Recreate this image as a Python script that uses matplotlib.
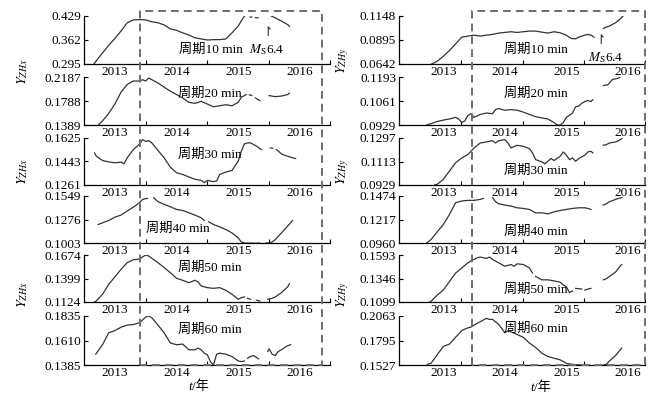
import numpy as np
import matplotlib.pyplot as plt
from matplotlib.lines import Line2D
from matplotlib.transforms import blended_transform_factory

plt.rcParams['font.family'] = ['Liberation Serif', 'Noto Sans CJK SC']
plt.rcParams['mathtext.fontset'] = 'stix'

nan = np.nan
W, H = 669, 398

periods = ['周期10 min', '周期20 min', '周期30 min', '周期40 min', '周期50 min', '周期60 min']
year_labels = ['2013', '2014', '2015', '2016']

# ---- Y_ZHx (left column) ----
zhx_t10 = [2012.66, 2012.7, 2012.8, 2012.9, 2013.0, 2013.1, 2013.2, 2013.3, 2013.4, 2013.5, 2013.6, 2013.7,
           2013.8, 2013.9, 2014.0, 2014.1, 2014.2, 2014.3, 2014.4, 2014.5, 2014.6, 2014.7, 2014.8, 2014.9,
           2015.0, 2015.1, 2015.13, 2015.16, 2015.19, 2015.22, 2015.25, 2015.28, 2015.32, 2015.4,
           2015.5, 2015.6, 2015.7, 2015.8, 2015.83]
zhx_v10 = [.295, .304, .326, .347, .366, .387, .410, .418, .419, .418, .413, .410,
           .404, .393, .389, .382, .376, .368, .365, .362, .363, .363, .365, .382,
           .401, .429, .432, nan, .426, .426, nan, .424, .424, nan,
           .432, .424, .415, .405, .400]

zhx_t20 = [2012.73, 2012.8, 2012.9, 2013.0, 2013.1, 2013.2, 2013.3, 2013.4, 2013.45, 2013.5, 2013.55, 2013.6,
           2013.7, 2013.8, 2013.9, 2014.0, 2014.1, 2014.2, 2014.3, 2014.4, 2014.5, 2014.6, 2014.7, 2014.8,
           2014.9, 2015.0, 2015.05, 2015.1, 2015.13, 2015.16, 2015.18, 2015.22, 2015.25, 2015.28, 2015.35,
           2015.42, 2015.5, 2015.6, 2015.7, 2015.8, 2015.83]
zhx_v20 = [.1389, .1456, .1580, .1737, .1934, .2063, .2120, .2120, .2142, .2120, .2170, .2142,
           .2086, .2018, .1951, .1895, .1839, .1766, .1749, .1782, .1737, .1692, .1709, .1726,
           .1709, .1766, .1850, .1878, .1895, nan, .1890, .1880, nan, .1839, .1794,
           nan, .1878, .1860, .1870, .1895, .1917]

zhx_t30 = [2012.67, 2012.7, 2012.8, 2012.9, 2013.0, 2013.1, 2013.15, 2013.2, 2013.3, 2013.4, 2013.45, 2013.5,
           2013.55, 2013.6, 2013.7, 2013.8, 2013.9, 2014.0, 2014.1, 2014.2, 2014.3, 2014.4, 2014.45, 2014.5,
           2014.6, 2014.65, 2014.7, 2014.8, 2014.9, 2015.0, 2015.05, 2015.1, 2015.15, 2015.2, 2015.3, 2015.35,
           2015.38, 2015.45, 2015.52, 2015.56, 2015.59, 2015.62, 2015.66, 2015.7, 2015.75, 2015.85, 2015.93]
zhx_v30 = [.1510, .1484, .1451, .1440, .1433, .1438, .1425, .1471, .1535, .1579, .1612, .1599,
           .1604, .1587, .1528, .1471, .1399, .1356, .1343, .1323, .1305, .1297, .1279, .1297,
           .1287, .1292, .1343, .1361, .1374, .1446, .1522, .1579, .1587, .1587, .1561, .1543,
           .1535, nan, .1548, .1545, nan, .1535, .1520, .1502, .1492, .1476, .1466]

zhx_t40 = [2012.73, 2012.8, 2012.9, 2013.0, 2013.1, 2013.2, 2013.3, 2013.4, 2013.45, 2013.5, 2013.53, 2013.58,
           2013.63, 2013.7, 2013.8, 2013.9, 2014.0, 2014.1, 2014.2, 2014.3, 2014.4, 2014.45, 2014.48, 2014.52,
           2014.6, 2014.7, 2014.8, 2014.9, 2015.0, 2015.05, 2015.1, 2015.2, 2015.3, 2015.35, 2015.4, 2015.45,
           2015.5, 2015.55, 2015.6, 2015.7, 2015.8, 2015.88]
zhx_v40 = [.1218, .1237, .1264, .1303, .1327, .1374, .1420, .1471, .1510, .1518, .1522, nan,
           .1530, .1483, .1452, .1424, .1393, .1381, .1354, .1327, .1296, .1264, nan, .1249,
           .1218, .1190, .1159, .1120, .1062, .1015, .1003, .1001, .1000, .1002, nan, .1003,
           .1005, .1015, .1042, .1120, .1198, .1264]

zhx_t50 = [2012.67, 2012.7, 2012.8, 2012.9, 2013.0, 2013.1, 2013.2, 2013.3, 2013.4, 2013.45, 2013.5, 2013.55,
           2013.6, 2013.7, 2013.8, 2013.9, 2014.0, 2014.1, 2014.2, 2014.3, 2014.35, 2014.4, 2014.5, 2014.6,
           2014.7, 2014.8, 2014.9, 2015.0, 2015.05, 2015.1, 2015.12, 2015.15, 2015.2, 2015.25, 2015.3, 2015.35,
           2015.42, 2015.48, 2015.55, 2015.6, 2015.7, 2015.8, 2015.83]
zhx_v50 = [.1124, .1136, .1214, .1331, .1417, .1506, .1584, .1619, .1627, .1651, .1674, .1662,
           .1635, .1584, .1526, .1467, .1401, .1378, .1350, .1378, .1358, .1311, .1292, .1284,
           .1292, .1261, .1214, .1155, .1175, .1183, nan, .1167, .1155, nan, .1144, .1136,
           nan, .1155, .1167, .1183, .1233, .1300, .1339]

zhx_t60 = [2012.69, 2012.8, 2012.9, 2013.0, 2013.1, 2013.2, 2013.3, 2013.4, 2013.5, 2013.55, 2013.6, 2013.7,
           2013.8, 2013.9, 2014.0, 2014.1, 2014.2, 2014.3, 2014.35, 2014.4, 2014.45, 2014.5, 2014.55, 2014.6,
           2014.65, 2014.7, 2014.8, 2014.9, 2015.0, 2015.05, 2015.1, 2015.12, 2015.15, 2015.2, 2015.25, 2015.3,
           2015.33, 2015.4, 2015.48, 2015.5, 2015.55, 2015.6, 2015.65, 2015.7, 2015.8, 2015.85]
zhx_v60 = [.1484, .1571, .1680, .1701, .1732, .1751, .1757, .1773, .1825, .1835, .1819, .1751,
           .1680, .1587, .1571, .1577, .1525, .1525, .1540, .1525, .1494, .1478, .1416, .1385,
           .1484, .1494, .1484, .1463, .1422, .1416, .1422, nan, .1447, .1463, .1472, .1453,
           .1441, nan, .1509, .1534, .1484, .1472, .1509, .1525, .1562, .1571]

# ---- Y_ZHy (right column) ----
zhy_t10 = [2012.81, 2012.9, 2013.0, 2013.1, 2013.2, 2013.3, 2013.4, 2013.5, 2013.6, 2013.7, 2013.8, 2013.9,
           2014.0, 2014.1, 2014.2, 2014.3, 2014.4, 2014.5, 2014.6, 2014.7, 2014.8, 2014.9, 2015.0, 2015.08,
           2015.15, 2015.2, 2015.3, 2015.35, 2015.4, 2015.45, 2015.52, 2015.6, 2015.65, 2015.7, 2015.75,
           2015.8, 2015.9, 2015.92]
zhy_v10 = [.0642, .0670, .0723, .0784, .0854, .0925, .0936, .0946, .0936, .0946, .0954, .0968,
           .0975, .0982, .0975, .0982, .0989, .0989, .0978, .0968, .0982, .0971, .0946, .0911,
           .0907, .0925, .0946, .0954, .0946, .0925, nan, .1017, .1031, .1042, .1060,
           .1077, .1131, .1148]

zhy_t20 = [2012.73, 2012.8, 2012.9, 2013.0, 2013.1, 2013.2, 2013.25, 2013.3, 2013.35, 2013.4, 2013.45, 2013.5,
           2013.6, 2013.7, 2013.8, 2013.85, 2013.9, 2014.0, 2014.1, 2014.2, 2014.3, 2014.4, 2014.5, 2014.6,
           2014.7, 2014.8, 2014.85, 2014.9, 2014.95, 2015.0, 2015.1, 2015.15, 2015.2, 2015.25, 2015.3, 2015.35,
           2015.4, 2015.43, 2015.5, 2015.6, 2015.63, 2015.67, 2015.7, 2015.75, 2015.8, 2015.85, 2015.9]
zhy_v20 = [.0929, .0937, .0948, .0956, .0962, .0971, .0962, .0942, .0952, .0981, .0991, .0971,
           .0987, .0995, .0991, .1014, .1020, .1010, .1014, .1010, .1000, .0987, .0975, .0968,
           .0962, .0942, .0929, .0929, .0942, .0971, .0995, .1029, .1033, .1048, .1058, .1064,
           .1058, .1068, nan, .1145, .1149, .1149, .1160, .1180, .1183, .1187, .1199]

zhy_t30 = [2012.86, 2012.9, 2013.0, 2013.1, 2013.2, 2013.3, 2013.4, 2013.5, 2013.6, 2013.7, 2013.8, 2013.85,
           2013.9, 2014.0, 2014.05, 2014.1, 2014.2, 2014.3, 2014.4, 2014.45, 2014.5, 2014.6, 2014.65, 2014.7,
           2014.75, 2014.8, 2014.9, 2014.95, 2015.0, 2015.05, 2015.1, 2015.15, 2015.2, 2015.3, 2015.35, 2015.4,
           2015.43, 2015.5, 2015.6, 2015.65, 2015.7, 2015.8, 2015.85, 2015.9]
zhy_v30 = [.0929, .0934, .0973, .1038, .1103, .1141, .1167, .1219, .1258, .1266, .1276, .1258,
           .1276, .1284, .1258, .1219, .1240, .1232, .1214, .1180, .1128, .1110, .1095, .1115,
           .1136, .1121, .1154, .1188, .1162, .1128, .1141, .1115, .1136, .1162, .1188, .1193,
           .1180, nan, .1240, .1245, .1258, .1266, .1276, .1292]

zhy_t40 = [2012.73, 2012.8, 2012.9, 2013.0, 2013.1, 2013.2, 2013.3, 2013.4, 2013.5, 2013.6, 2013.65, 2013.72,
           2013.8, 2013.85, 2013.9, 2014.0, 2014.1, 2014.2, 2014.3, 2014.4, 2014.5, 2014.6, 2014.7, 2014.8,
           2014.9, 2015.0, 2015.1, 2015.2, 2015.3, 2015.35, 2015.4, 2015.5, 2015.6, 2015.65, 2015.7, 2015.8,
           2015.85, 2015.9]
zhy_v40 = [.0960, .0997, .1081, .1162, .1272, .1400, .1419, .1426, .1426, .1437, .1448, nan,
           .1456, .1411, .1389, .1375, .1364, .1345, .1338, .1327, .1290, .1290, .1279, .1301,
           .1316, .1327, .1338, .1345, .1345, .1338, .1327, nan, .1375, .1389, .1411, .1437,
           .1448, .1456]

zhy_t50 = [2012.73, 2012.8, 2012.9, 2013.0, 2013.1, 2013.2, 2013.3, 2013.4, 2013.5, 2013.55, 2013.6, 2013.7,
           2013.75, 2013.8, 2013.9, 2014.0, 2014.1, 2014.15, 2014.2, 2014.3, 2014.4, 2014.45, 2014.47, 2014.5,
           2014.6, 2014.7, 2014.8, 2014.9, 2014.95, 2015.0, 2015.05, 2015.1, 2015.12, 2015.15, 2015.25, 2015.28,
           2015.3, 2015.35, 2015.4, 2015.5, 2015.6, 2015.65, 2015.7, 2015.8, 2015.85, 2015.9]
zhy_v50 = [.1085, .1106, .1171, .1224, .1314, .1403, .1457, .1511, .1547, .1564, .1571, .1557,
           .1571, .1547, .1511, .1475, .1493, .1475, .1500, .1493, .1457, .1403, nan, .1368,
           .1332, .1332, .1321, .1307, .1278, .1260, .1199, .1214, nan, .1242, .1235, nan,
           .1224, .1235, .1242, nan, .1332, .1343, .1368, .1414, .1457, .1493]

zhy_t60 = [2012.74, 2012.8, 2012.9, 2013.0, 2013.1, 2013.2, 2013.3, 2013.4, 2013.45, 2013.5, 2013.6, 2013.7,
           2013.75, 2013.8, 2013.9, 2014.0, 2014.05, 2014.1, 2014.2, 2014.3, 2014.4, 2014.5, 2014.6, 2014.7,
           2014.8, 2014.9, 2015.0, 2015.1, 2015.2, 2015.3, 2015.4, 2015.5, 2015.6, 2015.65, 2015.7, 2015.8,
           2015.9]
zhy_v60 = [.1534, .1545, .1638, .1730, .1756, .1830, .1904, .1934, .1941, .1963, .2000, .2037,
           .2026, .2026, .1971, .1880, .1900, .1890, .1860, .1830, .1767, .1719, .1657, .1620,
           .1601, .1583, .1545, .1534, .1527, .1527, .1522, nan, .1527, .1534, .1571, .1631,
           .1712]

zhx_ticks = [['0.295', '0.362', '0.429'], ['0.1389', '0.1788', '0.2187'], ['0.1261', '0.1443', '0.1625'],
             ['0.1003', '0.1276', '0.1549'], ['0.1124', '0.1399', '0.1674'], ['0.1385', '0.1610', '0.1835']]
zhy_ticks = [['0.0642', '0.0895', '0.1148'], ['0.0929', '0.1061', '0.1193'], ['0.0929', '0.1113', '0.1297'],
             ['0.0960', '0.1217', '0.1474'], ['0.1099', '0.1346', '0.1593'], ['0.1527', '0.1795', '0.2063']]

event_start = [2013.40, 2013.46]   # dashed box start, per column
event_end = [2016.36, 2016.27]
quake = [2015.39, 2015.47]         # Ms6.4

columns = [
    dict(t=[zhx_t10, zhx_t20, zhx_t30, zhx_t40, zhx_t50, zhx_t60],
         v=[zhx_v10, zhx_v20, zhx_v30, zhx_v40, zhx_v50, zhx_v60],
         ticks=zhx_ticks, ylab=r'$Y_{ZHx}$',
         xlim=(2012.5, 2016.48), xmaj=[2013.5, 2014.5, 2015.5, 2016.48],
         left=84, right=329.5,
         ylab_pos=[(23, 72), (23, 172), (23, 295)],
         per_pos=[(211, 50), (210, 94), (210, 155), (178, 229), (210, 268), (210, 330)],
         ms_pos=(267, 50), arrow_y=32, tlab=(192, 387)),
    dict(t=[zhy_t10, zhy_t20, zhy_t30, zhy_t40, zhy_t50, zhy_t60],
         v=[zhy_v10, zhy_v20, zhy_v30, zhy_v40, zhy_v50, zhy_v60],
         ticks=zhy_ticks, ylab=r'$Y_{ZHy}$',
         xlim=(2012.28, 2016.27), xmaj=[2013.29, 2014.29, 2015.29, 2016.27],
         left=399, right=644.5,
         ylab_pos=[(343, 61), (343, 172), (343, 295)],
         per_pos=[(536, 50), (536, 94), (536, 171), (536, 232), (536, 290), (536, 329)],
         ms_pos=(606, 58), arrow_y=41, tlab=(534, 388)),
]

row_top = [16, 77, 138, 196, 255, 316]
row_bot = [64, 125, 185, 243, 302, 365]

fig = plt.figure(figsize=(W / 100, H / 100), dpi=100)
fs = 9.5
curve_color = '#333333'
dash_color = '#6e6e6e'


def fx(px):
    return px / W


def fy(py):
    return 1 - py / H


for c, col in enumerate(columns):
    axes = []
    for r in range(6):
        ax = fig.add_axes([fx(col['left']), fy(row_bot[r]), fx(col['right'] - col['left']),
                           (row_bot[r] - row_top[r]) / H])
        ax.plot(col['t'][r], col['v'][r], color=curve_color, lw=0.9)
        tv = [float(s) for s in col['ticks'][r]]
        ax.set_ylim(tv[0], tv[-1])
        ax.set_yticks(tv, labels=col['ticks'][r])
        ax.set_xlim(*col['xlim'])
        ax.set_xticks(col['xmaj'], labels=[''] * 4)
        ax.set_xticks([2013, 2014, 2015, 2016], labels=year_labels, minor=True)
        ax.tick_params(which='major', direction='in', length=3, width=0.8, labelsize=fs, pad=2)
        ax.tick_params(axis='x', which='minor', length=0, labelsize=fs, pad=1.5)
        for s in ['top', 'right']:
            ax.spines[s].set_visible(False)
        for s in ['left', 'bottom']:
            ax.spines[s].set_linewidth(0.9)
        ax.patch.set_alpha(0)
        axes.append(ax)

        px, py = col['per_pos'][r]
        fig.text(fx(px), fy(py), periods[r], ha='center', va='center', fontsize=fs)

    for (px, py) in col['ylab_pos']:
        fig.text(fx(px), fy(py), col['ylab'], rotation=90, ha='center', va='center', fontsize=10)

    fig.text(fx(col['ms_pos'][0]), fy(col['ms_pos'][1]), r'$M_{\mathrm{S}}$6.4',
             ha='center', va='center', fontsize=fs)
    tr = blended_transform_factory(axes[0].transData, fig.transFigure)
    axes[0].text(quake[c], fy(col['arrow_y']), '\u21be', transform=tr, ha='left', va='center',
                 fontsize=9, family='DejaVu Sans', color='#222222', clip_on=False)

    # x label "t/年": italic t, then "/年"
    tx, ty = col['tlab']
    fig.text(fx(tx), fy(ty), 't', style='italic', ha='right', va='center', fontsize=fs)
    fig.text(fx(tx), fy(ty), '/年', ha='left', va='center', fontsize=fs)

    # dashed box marking the anomaly period
    bot_ax = axes[-1]
    inv = fig.transFigure.inverted()
    x0 = inv.transform(bot_ax.transData.transform((event_start[c], 0)))[0]
    x1 = inv.transform(bot_ax.transData.transform((event_end[c], 0)))[0]
    y_top, y_bot = fy(10.7), fy(row_bot[-1])
    fig.add_artist(Line2D([x0, x0, x1, x1, x0], [y_bot, y_top, y_top, y_bot, y_bot],
                          transform=fig.transFigure, color=dash_color, lw=1.4,
                          dashes=(4, 2.6), zorder=5))

fig.savefig('out.png', dpi=100)
